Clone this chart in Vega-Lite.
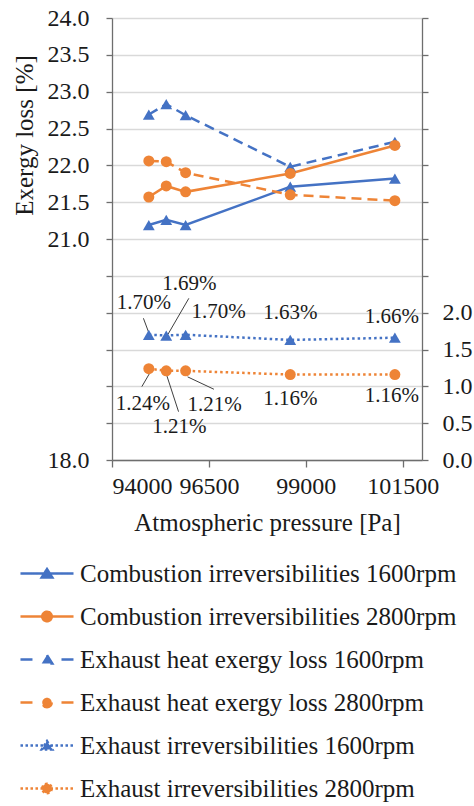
{
  "$schema": "https://vega.github.io/schema/vega-lite/v6.json",
  "width": 310,
  "height": 442,
  "autosize": {"type": "none"},
  "padding": {"left": 112, "top": 18, "right": 52, "bottom": 346},
  "background": "white",
  "config": {
    "font": "Liberation Serif",
    "view": {"stroke": null},
    "axis": {
      "labelFont": "Liberation Serif",
      "titleFont": "Liberation Serif",
      "labelColor": "#1a1a1a",
      "titleColor": "#1a1a1a",
      "titleFontWeight": "normal",
      "domainColor": "#6e6e6e",
      "tickColor": "#6e6e6e",
      "domainWidth": 1.3,
      "tickWidth": 1.3
    },
    "legend": {"labelFont": "Liberation Serif"}
  },
  "datasets": {
    "main": [
      {"p": 94950, "series": "Combustion irreversibilities 1600rpm", "v": 21.19},
      {"p": 95400, "series": "Combustion irreversibilities 1600rpm", "v": 21.26},
      {"p": 95900, "series": "Combustion irreversibilities 1600rpm", "v": 21.19},
      {"p": 98600, "series": "Combustion irreversibilities 1600rpm", "v": 21.71},
      {"p": 101300, "series": "Combustion irreversibilities 1600rpm", "v": 21.82},
      {"p": 94950, "series": "Combustion irreversibilities 2800rpm", "v": 21.57},
      {"p": 95400, "series": "Combustion irreversibilities 2800rpm", "v": 21.72},
      {"p": 95900, "series": "Combustion irreversibilities 2800rpm", "v": 21.64},
      {"p": 98600, "series": "Combustion irreversibilities 2800rpm", "v": 21.89},
      {"p": 101300, "series": "Combustion irreversibilities 2800rpm", "v": 22.27},
      {"p": 94950, "series": "Exhaust heat exergy loss 1600rpm", "v": 22.69},
      {"p": 95400, "series": "Exhaust heat exergy loss 1600rpm", "v": 22.83},
      {"p": 95900, "series": "Exhaust heat exergy loss 1600rpm", "v": 22.68},
      {"p": 98600, "series": "Exhaust heat exergy loss 1600rpm", "v": 21.98},
      {"p": 101300, "series": "Exhaust heat exergy loss 1600rpm", "v": 22.32},
      {"p": 94950, "series": "Exhaust heat exergy loss 2800rpm", "v": 22.06},
      {"p": 95400, "series": "Exhaust heat exergy loss 2800rpm", "v": 22.05},
      {"p": 95900, "series": "Exhaust heat exergy loss 2800rpm", "v": 21.9},
      {"p": 98600, "series": "Exhaust heat exergy loss 2800rpm", "v": 21.6},
      {"p": 101300, "series": "Exhaust heat exergy loss 2800rpm", "v": 21.52}
    ],
    "irr": [
      {"p": 94950, "series": "Exhaust irreversibilities 1600rpm", "v": 1.70, "k": "a1", "lab": "1.70%"},
      {"p": 95400, "series": "Exhaust irreversibilities 1600rpm", "v": 1.69, "k": "a2", "lab": "1.69%"},
      {"p": 95900, "series": "Exhaust irreversibilities 1600rpm", "v": 1.70, "k": "a3", "lab": "1.70%"},
      {"p": 98600, "series": "Exhaust irreversibilities 1600rpm", "v": 1.63, "k": "a4", "lab": "1.63%"},
      {"p": 101300, "series": "Exhaust irreversibilities 1600rpm", "v": 1.66, "k": "a5", "lab": "1.66%"},
      {"p": 94950, "series": "Exhaust irreversibilities 2800rpm", "v": 1.24, "k": "b1", "lab": "1.24%"},
      {"p": 95400, "series": "Exhaust irreversibilities 2800rpm", "v": 1.21, "k": "b2", "lab": "1.21%"},
      {"p": 95900, "series": "Exhaust irreversibilities 2800rpm", "v": 1.21, "k": "b3", "lab": "1.21%"},
      {"p": 98600, "series": "Exhaust irreversibilities 2800rpm", "v": 1.16, "k": "b4", "lab": "1.16%"},
      {"p": 101300, "series": "Exhaust irreversibilities 2800rpm", "v": 1.16, "k": "b5", "lab": "1.16%"}
    ]
  },
  "encoding": {
    "x": {
      "field": "p",
      "type": "quantitative",
      "scale": {"domain": [94000, 102000], "nice": false, "zero": false},
      "axis": {
        "title": "Atmospheric pressure [Pa]",
        "values": [94000, 96500, 99000, 101500],
        "format": "d",
        "grid": false,
        "tickSize": 7,
        "labelPadding": 7,
        "labelFont": "Liberation Serif",
        "labelFontSize": 24,
        "titleFont": "Liberation Serif",
        "titleFontSize": 25,
        "titlePadding": 12
      }
    }
  },
  "layer": [
    {
      "data": {"name": "main"},
      "encoding": {
        "y": {
          "field": "v",
          "type": "quantitative",
          "scale": {"domain": [18, 24], "nice": false, "zero": false},
          "axis": {
            "title": "Exergy loss [%]",
            "values": [18, 18.5, 19, 19.5, 20, 20.5, 21, 21.5, 22, 22.5, 23, 23.5, 24],
            "labelExpr": "(datum.value >= 21 || datum.value == 18) ? format(datum.value, '.1f') : ''",
            "grid": true,
            "gridColor": "#d9d9d9",
            "gridWidth": 1.3,
            "tickSize": 6,
            "labelPadding": 17,
            "labelFont": "Liberation Serif",
            "labelFontSize": 24,
            "titleFont": "Liberation Serif",
            "titleFontSize": 25,
            "titleX": -88,
            "titleY": 117,
            "titleBaseline": "middle"
          }
        }
      },
      "layer": [
        {
          "transform": [{"filter": "indexof(datum.series, 'Combustion') == 0"}],
          "mark": {"type": "line", "strokeWidth": 2.5},
          "encoding": {
            "color": {
              "field": "series",
              "type": "nominal",
              "scale": {
                "domain": ["Combustion irreversibilities 1600rpm", "Combustion irreversibilities 2800rpm", "Exhaust heat exergy loss 1600rpm", "Exhaust heat exergy loss 2800rpm", "Exhaust irreversibilities 1600rpm", "Exhaust irreversibilities 2800rpm"],
                "range": ["#4472C4", "#EE8436", "#4472C4", "#EE8436", "#4472C4", "#EE8436"]
              },
              "legend": {
                "orient": "none",
                "legendX": -112,
                "legendY": 543,
                "title": null,
                "direction": "vertical",
                "padding": 0,
                "symbolSize": 450,
                "symbolStrokeWidth": 2.5,
                "symbolOffset": 0,
                "labelOffset": 0,
                "labelFontSize": 25,
                "labelColor": "#1a1a1a",
                "labelLimit": 0,
                "rowPadding": 17,
                "encode": {
                  "symbols": {
                    "update": {
                      "x": {"value": 47},
                      "size": {"value": 450},
                      "strokeWidth": {"value": 2.5},
                      "shape": {"signal": "indexof(datum.value, '1600') >= 0 ? 'M-2.5,0H2.5M0,-0.42L0.5,0.38L-0.5,0.38Z' : 'M-2.5,0H2.5M0.45,0A0.45,0.45,0,1,1,-0.45,0A0.45,0.45,0,1,1,0.45,0Z'"},
                      "strokeDash": {"signal": "indexof(datum.value, 'Combustion') == 0 ? [1, 0] : (indexof(datum.value, 'heat') >= 0 ? [12, 29] : [2.5, 2.5])"},
                      "fill": {"signal": "indexof(datum.value, '1600') >= 0 ? '#4472C4' : '#EE8436'"},
                      "stroke": {"signal": "indexof(datum.value, '1600') >= 0 ? '#4472C4' : '#EE8436'"},
                      "opacity": {"value": 1}
                    }
                  },
                  "labels": {
                    "update": {
                      "x": {"value": 80}
                    }
                  }
                }
              }
            }
          }
        },
        {
          "transform": [{"filter": "indexof(datum.series, 'heat') >= 0"}],
          "mark": {"type": "line", "strokeWidth": 2.5, "strokeDash": [10, 6]},
          "encoding": {"color": {"field": "series", "type": "nominal"}}
        },
        {
          "transform": [{"filter": "indexof(datum.series, '1600') >= 0"}],
          "mark": {"type": "point", "shape": "triangle-up", "filled": true, "size": 140, "opacity": 1},
          "encoding": {"color": {"field": "series", "type": "nominal"}}
        },
        {
          "transform": [{"filter": "indexof(datum.series, '2800') >= 0"}],
          "mark": {"type": "point", "shape": "circle", "filled": true, "size": 121, "opacity": 1},
          "encoding": {"color": {"field": "series", "type": "nominal"}}
        }
      ]
    },
    {
      "data": {"name": "irr"},
      "encoding": {
        "y": {
          "field": "v",
          "type": "quantitative",
          "scale": {"domain": [0, 6], "nice": false, "zero": false},
          "axis": {
            "orient": "right",
            "title": null,
            "values": [0, 0.5, 1, 1.5, 2, 2.5, 3, 3.5, 4, 4.5, 5, 5.5, 6],
            "labelExpr": "datum.value <= 2 ? format(datum.value, '.1f') : ''",
            "grid": false,
            "tickSize": 6,
            "labelPadding": 14,
            "labelFont": "Liberation Serif",
            "labelFontSize": 24
          }
        }
      },
      "layer": [
        {
          "mark": {"type": "line", "strokeWidth": 2.5, "strokeDash": [2.5, 3]},
          "encoding": {"color": {"field": "series", "type": "nominal"}}
        },
        {"transform": [{"filter": "datum.k == 'a1'"}], "mark": {"type": "rule", "color": "#404040", "strokeWidth": 1, "xOffset": -5.4, "yOffset": -16.5, "x2Offset": 0, "y2Offset": -2}, "encoding": {"x2": {"field": "p"}, "y2": {"field": "v"}}},
        {"transform": [{"filter": "datum.k == 'a2'"}], "mark": {"type": "rule", "color": "#404040", "strokeWidth": 1, "xOffset": 22.6, "yOffset": -37.2, "x2Offset": 1.6, "y2Offset": -1}, "encoding": {"x2": {"field": "p"}, "y2": {"field": "v"}}},
        {"transform": [{"filter": "datum.k == 'b1'"}], "mark": {"type": "rule", "color": "#404040", "strokeWidth": 1, "xOffset": -7, "yOffset": 18, "x2Offset": 0.6, "y2Offset": 5}, "encoding": {"x2": {"field": "p"}, "y2": {"field": "v"}}},
        {"transform": [{"filter": "datum.k == 'b2'"}], "mark": {"type": "rule", "color": "#404040", "strokeWidth": 1, "xOffset": 12.3, "yOffset": 40.8, "x2Offset": 0, "y2Offset": 3}, "encoding": {"x2": {"field": "p"}, "y2": {"field": "v"}}},
        {"transform": [{"filter": "datum.k == 'b3'"}], "mark": {"type": "rule", "color": "#404040", "strokeWidth": 1, "xOffset": 28.3, "yOffset": 18.4, "x2Offset": 2, "y2Offset": 6}, "encoding": {"x2": {"field": "p"}, "y2": {"field": "v"}}},
        {
          "transform": [{"filter": "indexof(datum.series, '1600') >= 0"}],
          "mark": {"type": "point", "shape": "triangle-up", "filled": true, "size": 140, "opacity": 1},
          "encoding": {"color": {"field": "series", "type": "nominal"}}
        },
        {
          "transform": [{"filter": "indexof(datum.series, '2800') >= 0"}],
          "mark": {"type": "point", "shape": "circle", "filled": true, "size": 121, "opacity": 1},
          "encoding": {"color": {"field": "series", "type": "nominal"}}
        },
        {"transform": [{"filter": "datum.k == 'a1'"}], "mark": {"type": "text", "dx": -5, "dy": -32, "fontSize": 21, "font": "Liberation Serif", "color": "#1a1a1a"}, "encoding": {"text": {"field": "lab"}}},
        {"transform": [{"filter": "datum.k == 'a2'"}], "mark": {"type": "text", "dx": 23, "dy": -52, "fontSize": 21, "font": "Liberation Serif", "color": "#1a1a1a"}, "encoding": {"text": {"field": "lab"}}},
        {"transform": [{"filter": "datum.k == 'a3'"}], "mark": {"type": "text", "dx": 33, "dy": -23, "fontSize": 21, "font": "Liberation Serif", "color": "#1a1a1a"}, "encoding": {"text": {"field": "lab"}}},
        {"transform": [{"filter": "datum.k == 'a4'"}], "mark": {"type": "text", "dx": 0, "dy": -27, "fontSize": 21, "font": "Liberation Serif", "color": "#1a1a1a"}, "encoding": {"text": {"field": "lab"}}},
        {"transform": [{"filter": "datum.k == 'a5'"}], "mark": {"type": "text", "dx": -3, "dy": -21, "fontSize": 21, "font": "Liberation Serif", "color": "#1a1a1a"}, "encoding": {"text": {"field": "lab"}}},
        {"transform": [{"filter": "datum.k == 'b1'"}], "mark": {"type": "text", "dx": -6, "dy": 35, "fontSize": 21, "font": "Liberation Serif", "color": "#1a1a1a"}, "encoding": {"text": {"field": "lab"}}},
        {"transform": [{"filter": "datum.k == 'b2'"}], "mark": {"type": "text", "dx": 13, "dy": 56, "fontSize": 21, "font": "Liberation Serif", "color": "#1a1a1a"}, "encoding": {"text": {"field": "lab"}}},
        {"transform": [{"filter": "datum.k == 'b3'"}], "mark": {"type": "text", "dx": 29, "dy": 34, "fontSize": 21, "font": "Liberation Serif", "color": "#1a1a1a"}, "encoding": {"text": {"field": "lab"}}},
        {"transform": [{"filter": "datum.k == 'b4'"}], "mark": {"type": "text", "dx": 0, "dy": 24, "fontSize": 21, "font": "Liberation Serif", "color": "#1a1a1a"}, "encoding": {"text": {"field": "lab"}}},
        {"transform": [{"filter": "datum.k == 'b5'"}], "mark": {"type": "text", "dx": -3, "dy": 21, "fontSize": 21, "font": "Liberation Serif", "color": "#1a1a1a"}, "encoding": {"text": {"field": "lab"}}}
      ]
    }
  ],
  "resolve": {"scale": {"y": "independent"}}
}
